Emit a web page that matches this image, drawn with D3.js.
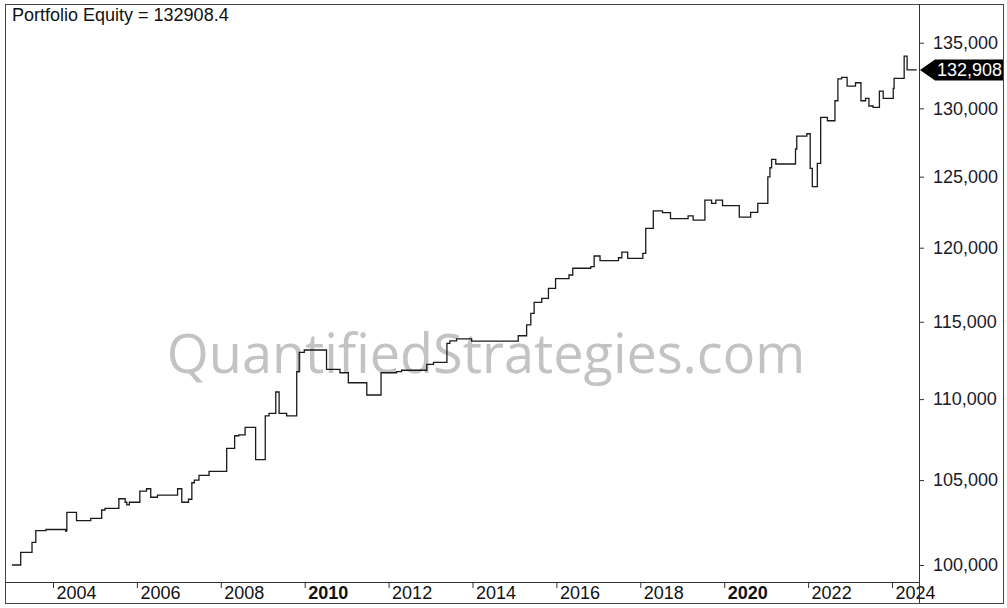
<!DOCTYPE html>
<html>
<head>
<meta charset="utf-8">
<script src="https://cdn.jsdelivr.net/npm/d3@7/dist/d3.min.js"></script>
<style>
  body { margin: 0; background: #fff; }
  svg { display: block; font-family: Arial, "Liberation Sans", sans-serif; }
</style>
</head>
<body>
<svg width="1007" height="608"></svg>
<script>
// Equity curve: step dates (decimal years) and equity after each step.

var stepDates = [
  2003.02, 2003.23, 2003.50, 2003.59, 2003.83, 2004.30, 2004.33, 2004.56, 2004.90, 2005.16,
  2005.24, 2005.57, 2005.72, 2005.76, 2005.82, 2006.07, 2006.23, 2006.33, 2006.49, 2006.97,
  2007.07, 2007.23, 2007.31, 2007.37, 2007.48, 2007.72, 2008.14, 2008.33, 2008.43, 2008.58,
  2008.83, 2009.06, 2009.15, 2009.31, 2009.39, 2009.57, 2009.81, 2009.87, 2009.99, 2010.52,
  2010.84, 2011.04, 2011.48, 2011.82, 2012.19, 2012.31, 2012.91, 2013.07, 2013.39, 2013.46,
  2013.62, 2013.98, 2015.09, 2015.29, 2015.39, 2015.47, 2015.65, 2015.81, 2015.98, 2016.30,
  2016.39, 2016.82, 2016.90, 2017.04, 2017.48, 2017.56, 2017.70, 2018.06, 2018.13, 2018.31,
  2018.53, 2018.72, 2019.14, 2019.26, 2019.54, 2019.70, 2019.80, 2019.96, 2020.36, 2020.63,
  2020.80, 2021.04, 2021.09, 2021.13, 2021.23, 2021.70, 2021.73, 2021.97, 2022.05, 2022.10,
  2022.22, 2022.30, 2022.46, 2022.64, 2022.71, 2022.80, 2022.93, 2023.13, 2023.26, 2023.37,
  2023.45, 2023.55, 2023.70, 2023.79, 2024.03, 2024.05, 2024.29, 2024.36, 2024.59
];

var equity = [
  100000, 100730, 101310, 101990, 102060, 101970, 103070, 102580, 102720, 103210,
  103310, 103880, 103670, 103520, 103670, 104340, 104480, 103970, 104100, 104480,
  103670, 103850, 104840, 105000, 105290, 105530, 106930, 107710, 107760, 108230,
  106240, 108950, 109100, 110450, 109100, 108950, 111750, 113000, 113150, 111890,
  111680, 111040, 110260, 111680, 111750, 111840, 112220, 112350, 113580, 113750,
  113870, 113730, 114080, 114790, 115560, 116290, 116560, 117230, 117880, 118130,
  118590, 118700, 119430, 119110, 119310, 119700, 119270, 119610, 121340, 122560,
  122440, 122020, 122210, 121920, 123330, 123100, 123330, 122930, 122130, 122460,
  123100, 124990, 125640, 126250, 125910, 127000, 127950, 128120, 125600, 124280,
  125960, 129330, 129080, 130570, 132230, 132340, 131680, 131930, 130570, 130750,
  130180, 130080, 131300, 130750, 131510, 132260, 133970, 132908.4, 132908.4
];

var yearTicks = [2004, 2006, 2008, 2010, 2012, 2014, 2016, 2018, 2020, 2022, 2024];
var boldYears = [2010, 2020];
var equityTicks = [100000, 105000, 110000, 115000, 120000, 125000, 130000, 135000];
var lastValue = 132908.4;

var svg = d3.select('svg');

// frame geometry
var frameLeft = 5, frameTop = 4, plotRight = 919, outerRight = 1003, plotBottom = 582, outerBottom = 603;

var x = d3.scaleLinear().domain([2003, 2024]).range([11.05, 892]);
var y = d3.scaleLog().domain([100000, 135000]).range([565, 42.7]);

// watermark
svg.append('text')
  .attr('x', 486)
  .attr('y', 373)
  .attr('text-anchor', 'middle')
  .attr('fill', '#c3c3c3')
  .style('font-family', '"Open Sans", "Noto Sans", sans-serif')
  .style('font-size', '54px')
  .text('QuantifiedStrategies.com');

// equity line
var points = stepDates.map(function(d, i) { return [d, equity[i]]; });

svg.append('clipPath').attr('id', 'plot')
  .append('rect')
  .attr('x', frameLeft).attr('y', frameTop)
  .attr('width', plotRight - frameLeft).attr('height', plotBottom - frameTop);

svg.append('path')
  .datum(points)
  .attr('clip-path', 'url(#plot)')
  .attr('fill', 'none')
  .attr('stroke', '#1a1a1a')
  .attr('stroke-width', 1.3)
  .attr('d', d3.line()
    .x(function(d) { return x(d[0]); })
    .y(function(d) { return y(d[1]); })
    .curve(d3.curveStepAfter));

// bottom time axis
var xAxis = svg.append('g')
  .attr('transform', 'translate(0,' + plotBottom + ')')
  .call(d3.axisBottom(x)
    .tickValues(yearTicks)
    .tickSize(6)
    .tickFormat(d3.format('d')));
xAxis.select('.domain').remove();
xAxis.selectAll('.tick line').attr('stroke', '#333');
xAxis.selectAll('.tick text')
  .attr('x', 3)
  .attr('y', 17)
  .attr('dy', 0)
  .attr('text-anchor', 'start')
  .attr('fill', '#111')
  .style('font-size', '18px')
  .style('font-family', 'Arial, "Liberation Sans", sans-serif')
  .style('font-weight', function(d) { return boldYears.indexOf(d) >= 0 ? 'bold' : 'normal'; });

// right value axis
var yAxis = svg.append('g')
  .attr('transform', 'translate(' + plotRight + ',0)')
  .call(d3.axisRight(y)
    .tickValues(equityTicks)
    .tickSize(5)
    .tickPadding(9)
    .tickFormat(d3.format(',')));
yAxis.select('.domain').remove();
yAxis.selectAll('.tick line').attr('stroke', '#333');
yAxis.selectAll('.tick text')
  .attr('fill', '#1a1a2a')
  .style('font-size', '18px')
  .style('font-family', 'Arial, "Liberation Sans", sans-serif');

// frame lines
svg.append('rect')
  .attr('x', frameLeft + 0.5).attr('y', frameTop + 0.5)
  .attr('width', outerRight - frameLeft).attr('height', outerBottom - frameTop)
  .attr('fill', 'none').attr('stroke', '#444');
svg.append('line')
  .attr('x1', frameLeft).attr('x2', plotRight)
  .attr('y1', plotBottom + 0.5).attr('y2', plotBottom + 0.5)
  .attr('stroke', '#333');
svg.append('line')
  .attr('x1', plotRight + 0.5).attr('x2', plotRight + 0.5)
  .attr('y1', frameTop).attr('y2', outerBottom)
  .attr('stroke', '#333');

// last value marker
var ly = y(lastValue);
svg.append('path')
  .attr('d', 'M' + (plotRight + 1) + ',' + ly +
    'L' + (plotRight + 16) + ',' + (ly - 10.5) +
    'L' + outerRight + ',' + (ly - 10.5) +
    'L' + outerRight + ',' + (ly + 10.5) +
    'L' + (plotRight + 16) + ',' + (ly + 10.5) + 'Z')
  .attr('fill', '#000');
svg.append('text')
  .attr('x', 937)
  .attr('y', ly)
  .attr('dy', '0.35em')
  .attr('fill', '#fff')
  .style('font-size', '18px')
  .text(d3.format(',.0f')(lastValue));

// title
svg.append('text')
  .attr('x', 12)
  .attr('y', 21)
  .attr('fill', '#111')
  .style('font-size', '18px')
  .text('Portfolio Equity = ' + lastValue);
</script>
</body>
</html>
